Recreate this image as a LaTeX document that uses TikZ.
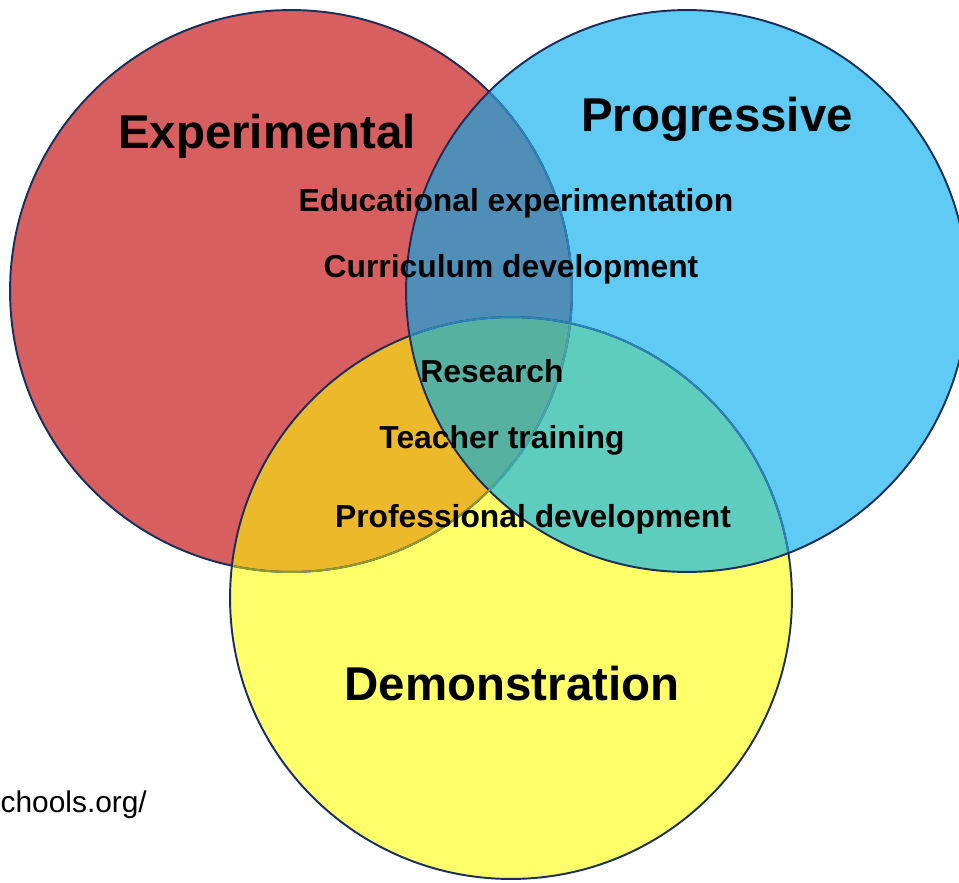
\documentclass[tikz,border=0pt]{standalone}
\usepackage{fontspec}
\setmainfont{Liberation Sans}
\usetikzlibrary{positioning}
\definecolor{expred}{HTML}{D75F60}
\definecolor{progblue}{HTML}{5FCBF5}
\definecolor{demyellow}{HTML}{FFFF6A}
\definecolor{redblue}{HTML}{4F8EB6}
\definecolor{redyellow}{HTML}{EBB92A}
\definecolor{blueyellow}{HTML}{5ECDBE}
\definecolor{allthree}{HTML}{56B1A0}
\definecolor{setline}{HTML}{1B2E5A}
\definecolor{lineblue}{HTML}{2A84BA}
\definecolor{lineolive}{HTML}{8E9A2C}
\definecolor{lineteal}{HTML}{3FA9AE}

\begin{document}
\begin{tikzpicture}[x=0.02cm,y=-0.02cm]
    % Setup the styles for the circles and the texts
        \tikzset{venn circle/.style={circle,
                                     minimum size=11.24cm,
                                     inner sep=0pt},
                 venn line/.style={draw=setline,
                                   line width=1.1pt},
                 title text/.style={anchor=base,
                                    font=\fontsize{27}{30}\selectfont\bfseries},
                 act text/.style={anchor=base,
                                  font=\fontsize{18.1}{21}\selectfont\bfseries}}
        \useasboundingbox (0,0) rectangle (959,882);
        % Draw the circles
        \node[venn circle, fill=expred]    at (291,291) (set_exp)  {};
        \node[venn circle, fill=demyellow] at (511,598) (set_dem)  {};
        \node[venn circle, fill=progblue]  at (687,291) (set_prog) {};
        % Fill the overlaps
        \begin{scope}
            \clip (set_dem.center) circle (5.62cm);
            \fill[blueyellow] (set_prog.center) circle (5.62cm);
        \end{scope}
        \begin{scope}
            \clip (set_exp.center) circle (5.62cm);
            \fill[redyellow] (set_dem.center) circle (5.62cm);
            \fill[redblue] (set_prog.center) circle (5.62cm);
            \clip (set_dem.center) circle (5.62cm);
            \fill[allthree] (set_prog.center) circle (5.62cm);
        \end{scope}
        % Outlines
        \draw[venn line] (set_exp.center) circle (5.62cm);
        \draw[venn line] (set_dem.center) circle (5.62cm);
        \draw[venn line] (set_prog.center) circle (5.62cm);
        \begin{scope}
            \clip (set_dem.center) circle (5.6cm);
            \draw[venn line, draw=lineolive] (set_exp.center) circle (5.62cm);
        \end{scope}
        \begin{scope}
            \clip (set_prog.center) circle (5.6cm);
            \draw[venn line, draw=lineblue] (set_exp.center) circle (5.62cm);
            \draw[venn line, draw=lineblue] (set_dem.center) circle (5.62cm);
            \clip (set_dem.center) circle (5.6cm);
            \draw[venn line, draw=lineteal] (set_exp.center) circle (5.62cm);
        \end{scope}
        % Circle names
        \node[title text] at (267,148) (name_exp)  {Experimental};
        \node[title text] at (717,132) (name_prog) {Progressive};
        \node[title text] at (512,700) (name_dem)  {Demonstration};
        % Shared activities
        \node[act text] at (516,211) (act_edu)   {Educational experimentation};
        \node[act text] at (511,277) (act_cur)   {Curriculum development};
        \node[act text] at (492,382) (act_res)   {Research};
        \node[act text] at (502,448) (act_teach) {Teacher training};
        \node[act text] at (533,527) (act_prof)  {Professional development};
        % Source
        \node[anchor=base east, font=\fontsize{17}{20}\selectfont] at (153,812) (source) {chools.org/};
\end{tikzpicture}
\end{document}
